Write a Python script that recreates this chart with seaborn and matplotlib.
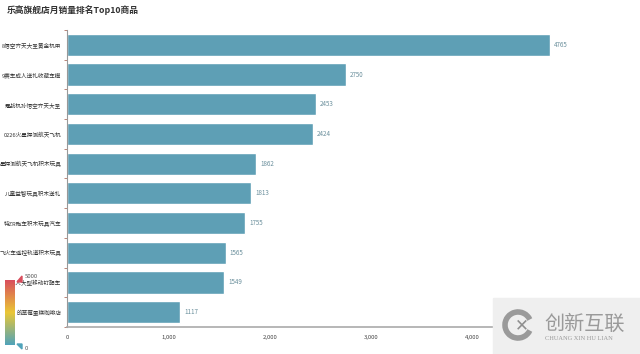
import numpy as np
import pandas as pd
import matplotlib
matplotlib.use("Agg")
import matplotlib.pyplot as plt
from matplotlib.colors import LinearSegmentedColormap
from matplotlib.patches import Rectangle, Arc, Polygon
import seaborn as sns

products = ["8悟空齐天大圣黄金机甲", "9赛车成人送礼收藏车模", "霆战机孙悟空齐天大圣",
            "0226火星探测航天飞机", "星探测航天飞机积木玩具", "儿童益智玩具积木送礼",
            "特ZR跑车积木玩具汽车", "飞火车遥控轨道积木玩具", "机器人大型移动钉靶车",
            "的草莓蛋糕咖啡店"]
sales = [4765, 2750, 2453, 2424, 1862, 1813, 1755, 1565, 1549, 1117]
xticks = [0, 1000, 2000, 3000, 4000]
title = "乐高旗舰店月销量排名Top10商品"

sns.set_theme(style="white")
plt.rcParams['font.family'] = ['Noto Sans CJK SC', 'DejaVu Sans']

df = pd.DataFrame({"product": products, "sales": sales})

fig = plt.figure(figsize=(6.4, 3.54), dpi=100)
ax = fig.add_axes([67/640, 1-327/354, (574-67)/640, (327-30)/354])
sns.barplot(data=df, x="sales", y="product", orient="h", color="#5e9fb5",
            saturation=1, width=0.75, ax=ax)
ax.set_xlim(0, 5000)
ax.set_ylim(9.5, -0.5)
ax.set_xlabel("")
ax.set_ylabel("")
ax.set_xticks(xticks)
ax.set_xticklabels([f"{v:,}" for v in xticks], fontsize=4.3, color="#444")
ax.tick_params(axis="x", length=2.5, width=0.6, color="#888", pad=3)
ax.tick_params(axis="y", length=0, labelsize=4.05, labelcolor="#333", pad=4)
ax.set_yticks(np.arange(-0.5, 10, 1), minor=True)
ax.tick_params(axis="y", which="minor", length=2.5, width=0.6, color="#b07060", left=True)
for s in ["top", "right"]:
    ax.spines[s].set_visible(False)
ax.spines["left"].set_color("#999")
ax.spines["left"].set_linewidth(0.8)
ax.spines["bottom"].set_color("#aaa")
ax.spines["bottom"].set_linewidth(1.2)

for c in ax.containers:
    ax.bar_label(c, labels=[str(v) for v in sales], padding=3, fontsize=4.5,
                 color="#6a8f9c")

fig.text(7/640, 1-10/354, title, fontsize=6.3, fontweight="bold",
         color="#333", va="center", ha="left")

# visual map gradient
cmap = LinearSegmentedColormap.from_list("vm", ["#50a3ba", "#eac736", "#d94e5d"])
cax = fig.add_axes([5/640, 1-345/354, 10/640, (345-280)/354])
grad = np.linspace(0, 1, 256).reshape(-1, 1)
cax.imshow(grad, aspect="auto", cmap=cmap, origin="lower", extent=[0, 1, 0, 1])
cax.set_axis_off()
fig.text(25/640, 1-277/354, "5000", fontsize=4.3, color="#555", va="center")
fig.text(25/640, 1-348/354, "0", fontsize=4.3, color="#555", va="center")
fig.patches.append(Polygon([[17/640, 1-282/354], [22/640, 1-276/354], [22/640, 1-282/354]],
                           closed=True, transform=fig.transFigure, color="#d94e5d"))
fig.patches.append(Polygon([[17/640, 1-344/354], [22/640, 1-349/354], [22/640, 1-344/354]],
                           closed=True, transform=fig.transFigure, color="#50a3ba"))

# watermark
fig.patches.append(Rectangle((493/640, 0), 147/640, 56/354, transform=fig.transFigure,
                             color="#efefef", zorder=5))
fig.patches.append(Arc((518/640, 1-325/354), 26/640, 26/354, theta1=40, theta2=320,
                       transform=fig.transFigure, color="#9a9a9a", lw=4, zorder=6))
fig.text(522/640, 1-325/354, "✕", fontsize=12, color="#8f8f8f", ha="center", va="center",
         zorder=7, fontweight="bold", family=["DejaVu Sans"])
fig.text(544/640, 1-324/354, "创新互联", fontsize=14.5, color="#9a9a9a", ha="left",
         va="center", zorder=7)
fig.text(545/640, 1-338/354, "CHUANG XIN HU LIAN", fontsize=4.6, color="#9a9a9a",
         ha="left", va="center", zorder=7, family=["Liberation Serif"])

fig.savefig("out.png", dpi=100, facecolor="white")
